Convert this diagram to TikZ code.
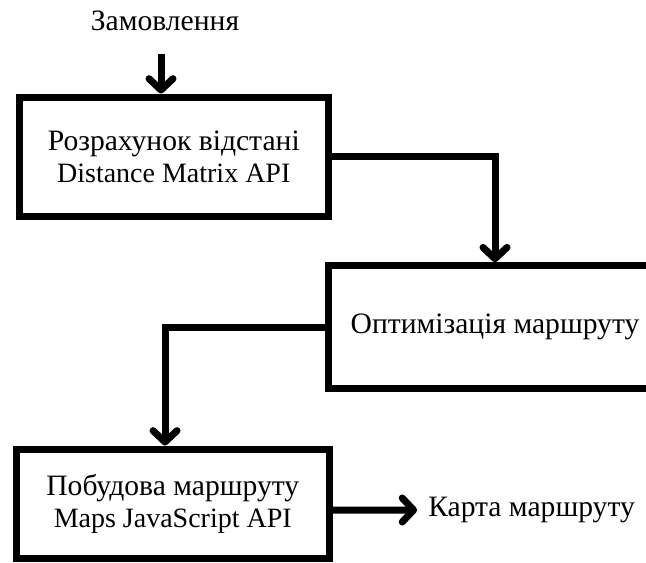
\documentclass[tikz,border=0pt]{standalone}
\usepackage{fontspec}
\setmainfont{Liberation Serif}
\usetikzlibrary{arrows.meta,calc}
\newcommand{\cyrsz}{\fontsize{22.2pt}{24pt}\selectfont}
\begin{document}
\begin{tikzpicture}[x=0.75pt,y=-0.75pt,
  box/.style={draw, line width=5.25pt, inner sep=0pt, align=center,
    font=\fontsize{21pt}{24pt}\selectfont},
  lbl/.style={inner sep=0pt, font=\cyrsz},
  conn/.style={line width=5.25pt, -{Straight Barb[length=8.5pt,width=18pt,round]}}]
\useasboundingbox (0,0) rectangle (646,563);
\clip (0,0) rectangle (646,563);
\node[box, minimum width=231.4pt, minimum height=89.6pt] (b1) at (173.75,156.75)
  {{\cyrsz Розрахунок відстані}\\Distance Matrix API};
\node[box, minimum width=250.5pt, minimum height=91.9pt] (b2) at (495,327)
  {\raisebox{3pt}{\cyrsz Оптимізація маршруту}};
\node[box, minimum width=234.4pt, minimum height=81.75pt] (b3) at (172.75,503.5)
  {{\cyrsz Побудова маршруту}\\Maps JavaScript API};
\node[lbl] (zam) at (165,20.5) {Замовлення};
\node[lbl, anchor=west] (karta) at (428,510) {Карта маршруту};
\coordinate (in) at (161,54);
\draw[conn] (in) -- (in |- b1.north);
\draw[conn] (b1.east) -| (b2.north);
\draw[conn] (b2.west) -| ([xshift=-5.8pt]b3.north);
\draw[conn] ([yshift=-4.9pt]b3.east) -- ([xshift=-8.2pt]karta.west);
\end{tikzpicture}
\end{document}
